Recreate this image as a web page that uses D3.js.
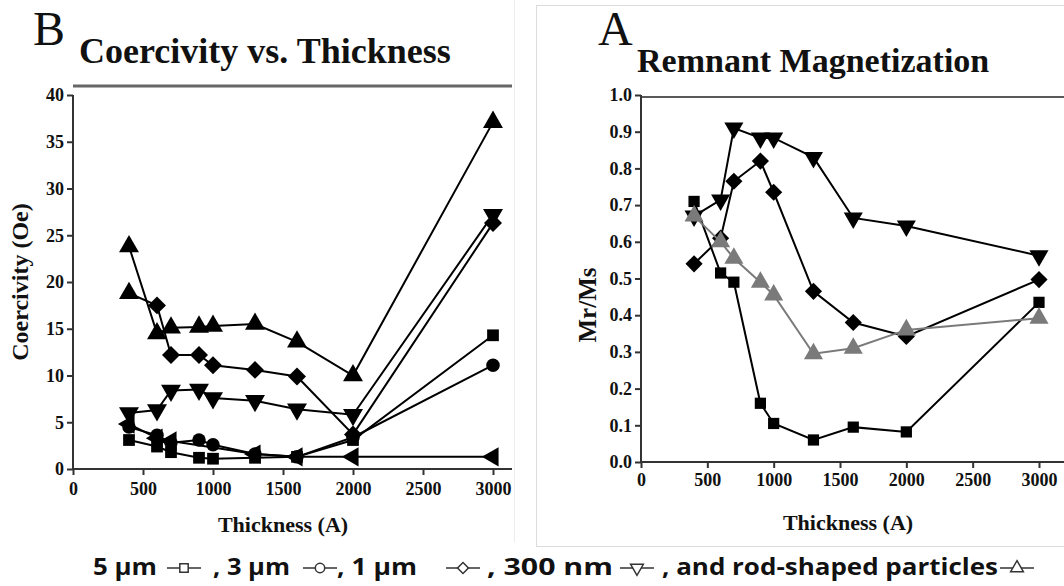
<!DOCTYPE html>
<html>
<head>
<meta charset="utf-8">
<script src="https://cdn.jsdelivr.net/npm/d3@7"></script>
<style>
  body { margin: 0; background: #fff; }
  svg { display: block; }
</style>
</head>
<body>
<svg id="chart" width="1064" height="586"></svg>
<script>
// thickness values shared by both panels
const thickness = [400, 600, 700, 900, 1000, 1300, 1600, 2000, 3000];

// Panel B - coercivity (Oe)
const coer5um = [3.1, 2.4, 1.8, 1.2, 1.1, 1.2, 1.3, 3.1, 14.3];
const coer3um = [4.5, 3.6, 2.8, 3.1, 2.6, 1.6, 1.3, 3.4, 11.1];
const coer1um = [18.8, 17.5, 12.2, 12.2, 11.1, 10.6, 9.9, 3.7, 26.3];
const coer300nm = [6.0, 6.3, 8.4, 8.5, 7.6, 7.3, 6.4, 5.8, 27.2];
const coerRod = [23.8, 14.5, 15.1, 15.2, 15.3, 15.5, 13.6, 10.0, 37.1];
const coerLeftX = [400, 600, 700, 1300, 1600, 2000, 3000];
const coerLeft = [4.8, 3.3, 3.0, 1.6, 1.3, 1.3, 1.3];

// Panel A - remnant magnetization (Mr/Ms)
const mr5um = [0.71, 0.515, 0.49, 0.16, 0.105, 0.06, 0.095, 0.082, 0.435];
const mr1um = [0.54, 0.61, 0.765, 0.82, 0.735, 0.465, 0.38, 0.342, 0.497];
const mr300nm = [0.67, 0.714, 0.91, 0.883, 0.883, 0.83, 0.665, 0.643, 0.562];
const mrRod = [0.67, 0.60, 0.555, 0.49, 0.455, 0.295, 0.31, 0.36, 0.392];

const coerTicksY = [0, 5, 10, 15, 20, 25, 30, 35, 40];
const mrTicksY = [0, 0.1, 0.2, 0.3, 0.4, 0.5, 0.6, 0.7, 0.8, 0.9, 1.0];
const ticksX = [0, 500, 1000, 1500, 2000, 2500, 3000];

const legendItems = [
  { label: '5 µm', shape: 'square', x0: 93, x1: 157, mx: 184 },
  { label: ', 3 µm', shape: 'circle', x0: 213, x1: 290, mx: 320 },
  { label: ', 1 µm', shape: 'diamond', x0: 337, x1: 417, mx: 463 },
  { label: ', 300 nm', shape: 'down', x0: 487, x1: 613, mx: 637 },
  { label: ', and rod-shaped particles', shape: 'up', x0: 662, x1: 998, mx: 1017 }
];

const svg = d3.select('#chart');
const serif = '"Liberation Serif", "Times New Roman", serif';

// symbol path helpers
function symbolPath(shape, size) {
  if (shape === 'square') return d3.symbol(d3.symbolSquare, size)();
  if (shape === 'circle') return d3.symbol(d3.symbolCircle, size)();
  if (shape === 'diamond') return d3.symbol(d3.symbolSquare, size)();
  return d3.symbol(d3.symbolTriangle, size)();
}
function symbolRotate(shape) {
  if (shape === 'diamond') return 45;
  if (shape === 'down') return 180;
  if (shape === 'left') return -90;
  return 0;
}
const symbolSize = { square: 120, circle: 125, diamond: 140, up: 150, down: 150, left: 140 };

// panel frames
svg.append('rect')
  .attr('x', 536.5).attr('y', 5.5).attr('width', 540).attr('height', 541)
  .attr('fill', 'none').attr('stroke', '#dcdcdc').attr('stroke-width', 1);
svg.append('line')
  .attr('x1', 514.5).attr('x2', 514.5).attr('y1', 0).attr('y2', 542)
  .attr('stroke', '#ececec');

function drawPanel(cfg) {
  const x = d3.scaleLinear().domain([0, 3000]).range(cfg.xRange);
  const y = d3.scaleLinear().domain(cfg.yDomain).range(cfg.yRange);
  const g = svg.append('g');

  // top frame line
  g.append('line')
    .attr('x1', cfg.topLine[0]).attr('x2', cfg.topLine[1])
    .attr('y1', cfg.topLineY).attr('y2', cfg.topLineY)
    .attr('stroke', cfg.topColor).attr('stroke-width', cfg.topWidth);

  // y axis
  const yAxis = g.append('g')
    .attr('transform', `translate(${cfg.xRange[0]},0)`)
    .call(d3.axisLeft(y).tickValues(cfg.yTicks).tickSize(6).tickPadding(3)
      .tickFormat(cfg.yFormat));
  // x axis
  const xAxis = g.append('g')
    .attr('transform', `translate(0,${cfg.yRange[0]})`)
    .call(d3.axisBottom(x).tickValues(ticksX).tickSize(6).tickPadding(cfg.xPad)
      .tickFormat(d3.format('d')));
  xAxis.select('.domain').attr('d', `M${cfg.xRange[0]},0H${cfg.xEnd}`);
  yAxis.select('.domain').attr('d', `M0,${cfg.yRange[1]}V${cfg.yRange[0]}`);
  [xAxis, yAxis].forEach(a => {
    a.attr('font-size', null).attr('font-family', null);
    a.select('.domain').attr('stroke', '#333').attr('stroke-width', 2);
    a.selectAll('.tick line').attr('stroke', '#333').attr('stroke-width', 2);
    a.selectAll('.tick text')
      .style('font-family', serif).style('font-weight', 'bold')
      .style('font-size', cfg.tickFont + 'px').attr('fill', '#111');
  });

  const line = d3.line().x(d => x(d[0])).y(d => y(d[1]));

  cfg.series.forEach(s => {
    const pts = s.xs.map((v, i) => [v, s.ys[i]]);
    g.append('path')
      .attr('d', line(pts))
      .attr('fill', 'none')
      .attr('stroke', s.color)
      .attr('stroke-width', 2);
    g.append('g').selectAll('path')
      .data(pts.filter((p, i) => !(s.skip || []).includes(i)))
      .join('path')
      .attr('d', symbolPath(s.shape, symbolSize[s.shape] * cfg.markScale))
      .attr('transform', d => `translate(${x(d[0])},${y(d[1])}) rotate(${symbolRotate(s.shape)})`)
      .attr('fill', s.color);
  });

  // titles
  g.append('text')
    .attr('x', cfg.letter.x).attr('y', cfg.letter.y)
    .style('font-family', serif).style('font-size', '48px')
    .attr('fill', '#111').text(cfg.letter.t);
  g.append('text')
    .attr('x', cfg.title.x).attr('y', cfg.title.y)
    .style('font-family', serif).style('font-weight', 'bold')
    .style('font-size', cfg.title.size + 'px')
    .attr('fill', '#111').text(cfg.title.t);
  g.append('text')
    .attr('x', cfg.xLabel.x).attr('y', cfg.xLabel.y)
    .attr('text-anchor', 'middle')
    .style('font-family', serif).style('font-weight', 'bold')
    .style('font-size', '22px').attr('fill', '#111').text('Thickness (A)');
  g.append('text')
    .attr('transform', `translate(${cfg.yLabel.x},${cfg.yLabel.y}) rotate(-90)`)
    .attr('text-anchor', 'middle')
    .style('font-family', serif).style('font-weight', 'bold')
    .style('font-size', cfg.yLabel.size + 'px').attr('fill', '#111').text(cfg.yLabel.t);
}

drawPanel({
  xRange: [73, 493], xEnd: 512, yDomain: [0, 40], yRange: [469, 95],
  yTicks: coerTicksY, yFormat: d3.format('d'), tickFont: 18, xPad: 7, markScale: 1.15,
  topLine: [73, 512], topLineY: 86, topColor: '#666', topWidth: 3,
  letter: { x: 33, y: 45, t: 'B' },
  title: { x: 79, y: 63, t: 'Coercivity vs. Thickness', size: 36 },
  xLabel: { x: 283, y: 532 },
  yLabel: { x: 28, y: 282, t: 'Coercivity (Oe)', size: 24 },
  series: [
    { xs: coerLeftX, ys: coerLeft, shape: 'left', color: '#000' },
    { xs: thickness, ys: coer5um, shape: 'square', color: '#000' },
    { xs: thickness, ys: coer3um, shape: 'circle', color: '#000' },
    { xs: thickness, ys: coer300nm, shape: 'down', color: '#000' },
    { xs: thickness, ys: coer1um, shape: 'diamond', color: '#000', skip: [0] },
    { xs: thickness, ys: coerRod, shape: 'up', color: '#000' },
    { xs: [thickness[0]], ys: [coer1um[0]], shape: 'up', color: '#000' }
  ]
});

drawPanel({
  xRange: [641, 1039], xEnd: 1064, yDomain: [0, 1], yRange: [462, 95],
  yTicks: mrTicksY, yFormat: d3.format('.1f'), tickFont: 18, xPad: 5, markScale: 1.05,
  topLine: [641, 1064], topLineY: 97, topColor: '#222', topWidth: 1.5,
  letter: { x: 598, y: 45, t: 'A' },
  title: { x: 637, y: 72, t: 'Remnant Magnetization', size: 34 },
  xLabel: { x: 848, y: 530 },
  yLabel: { x: 596, y: 305, t: 'Mr/Ms', size: 25 },
  series: [
    { xs: thickness, ys: mr5um, shape: 'square', color: '#000' },
    { xs: thickness, ys: mr300nm, shape: 'down', color: '#000' },
    { xs: thickness, ys: mr1um, shape: 'diamond', color: '#000' },
    { xs: thickness, ys: mrRod, shape: 'up', color: '#7a7a7a' }
  ]
});

// legend line at the bottom
const legend = svg.append('g');
legendItems.forEach(it => {
  legend.append('text')
    .attr('x', it.x0).attr('y', 575)
    .attr('textLength', it.x1 - it.x0).attr('lengthAdjust', 'spacingAndGlyphs')
    .style('font-family', '"Open Sans", sans-serif').style('font-weight', 'bold')
    .style('font-size', '23px').attr('fill', '#111')
    .text(it.label);
  legend.append('line')
    .attr('x1', it.mx - 17).attr('x2', it.mx + 17).attr('y1', 568).attr('y2', 568)
    .attr('stroke', '#333').attr('stroke-width', 1.5);
  legend.append('path')
    .attr('d', symbolPath(it.shape, it.shape === 'diamond' ? 60 : 70))
    .attr('transform', `translate(${it.mx},568) rotate(${symbolRotate(it.shape)})`)
    .attr('fill', '#fff').attr('stroke', '#333').attr('stroke-width', 1.5);
});
</script>
</body>
</html>
